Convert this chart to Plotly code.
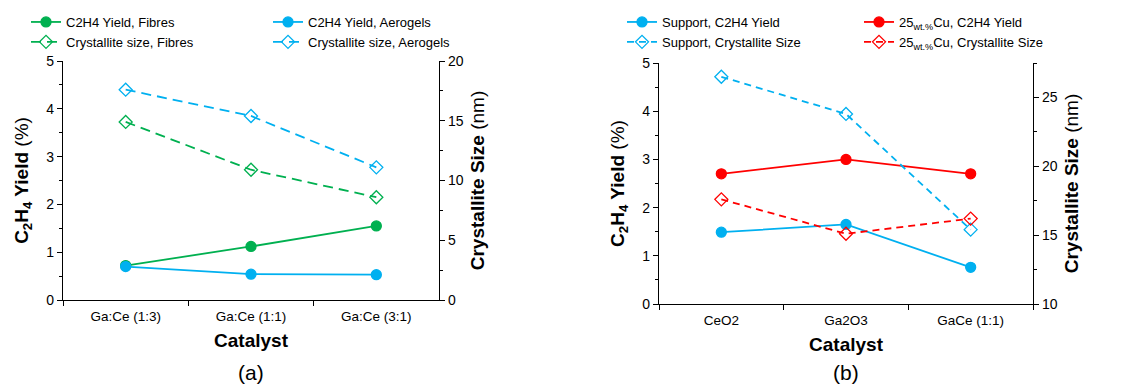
import plotly.graph_objects as go

# ---------------- data ----------------
cat_a = ["Ga:Ce (1:3)", "Ga:Ce (1:1)", "Ga:Ce (3:1)"]
yield_fibres = [0.72, 1.12, 1.55]
yield_aerogels = [0.70, 0.54, 0.53]
cryst_fibres = [14.9, 10.9, 8.6]
cryst_aerogels = [17.6, 15.4, 11.1]

cat_b = ["CeO2", "Ga2O3", "GaCe (1:1)"]
yield_support = [1.49, 1.65, 0.76]
yield_cu = [2.70, 3.00, 2.70]
cryst_support = [26.5, 23.8, 15.4]
cryst_cu = [17.6, 15.1, 16.2]

GREEN = "#00B050"
BLUE = "#00B0F0"
RED = "#FF0000"
FONT = "Arial, Liberation Sans, sans-serif"
INK = "#000000"

W, H = 1131, 385

fig = go.Figure()

def add(x, y, name, color, xa, ya, legend, filled, dash):
    fig.add_trace(go.Scatter(
        x=x, y=y, name=name, mode="lines+markers",
        xaxis=xa, yaxis=ya, legend=legend,
        line=dict(color=color, width=1.8, dash=dash),
        marker=dict(symbol="circle" if filled else "diamond-open",
                    size=10, color=color,
                    line=dict(color=color, width=1.3)),
    ))

# panel (a)
add(cat_a, yield_fibres, "C2H4 Yield, Fibres", GREEN, "x", "y", "legend", True, "solid")
add(cat_a, cryst_fibres, "Crystallite size, Fibres", GREEN, "x", "y2", "legend", False, "10px,6px")
add(cat_a, yield_aerogels, "C2H4 Yield, Aerogels", BLUE, "x", "y", "legend2", True, "solid")
add(cat_a, cryst_aerogels, "Crystallite size, Aerogels", BLUE, "x", "y2", "legend2", False, "10px,6px")
# panel (b)
add(cat_b, yield_support, "Support, C2H4 Yield", BLUE, "x2", "y3", "legend3", True, "solid")
add(cat_b, cryst_support, "Support, Crystallite Size", BLUE, "x2", "y4", "legend3", False, "7px,5px")
add(cat_b, yield_cu, "25<sub>wt.%</sub>Cu, C2H4 Yield", RED, "x2", "y3", "legend4", True, "solid")
add(cat_b, cryst_cu, "25<sub>wt.%</sub>Cu, Crystallite Size", RED, "x2", "y4", "legend4", False, "7px,5px")

def px_x(p):
    return p / W

def px_y(p):
    return 1 - p / H

axis_common = dict(showline=True, linecolor=INK, linewidth=1.3, showgrid=False,
                   zeroline=False, ticks="outside", ticklen=5, tickcolor=INK,
                   tickwidth=1.3, automargin=False,
                   tickfont=dict(family=FONT, size=14, color=INK))

xcommon = dict(axis_common, type="category", tickson="boundaries", range=[-0.5, 2.5],
               tickfont=dict(family=FONT, size=13.5, color=INK), ticklabelstandoff=4,
               title=dict(text="<b>Catalyst</b>", font=dict(family=FONT, size=19, color=INK), standoff=10))

ytitle_left = dict(text="<b>C<sub>2</sub>H<sub>4</sub> Yield</b> (%)",
                   font=dict(family=FONT, size=19, color=INK), standoff=12)
ytitle_right = dict(text="<b>Crystallite Size</b> (nm)",
                    font=dict(family=FONT, size=19, color=INK), standoff=7)

fig.update_layout(
    width=W, height=H,
    margin=dict(l=0, r=0, t=0, b=0, pad=0, autoexpand=False),
    paper_bgcolor="white", plot_bgcolor="white",
    font=dict(family=FONT, color=INK),
    xaxis=dict(xcommon, domain=[px_x(63), px_x(439)], anchor="y"),
    xaxis2=dict(xcommon, domain=[px_x(659), px_x(1033)], anchor="y3"),
    yaxis=dict(axis_common, domain=[px_y(300), px_y(61)], range=[0, 5], dtick=1,
               anchor="x", title=ytitle_left,
               minor=dict(dtick=0.5, ticks="outside", ticklen=3, tickcolor=INK)),
    yaxis2=dict(axis_common, overlaying="y", side="right", anchor="x", range=[0, 20], dtick=5,
                title=ytitle_right,
                minor=dict(dtick=2.5, ticks="outside", ticklen=3, tickcolor=INK)),
    yaxis3=dict(axis_common, domain=[px_y(304), px_y(63)], range=[0, 5], dtick=1,
                anchor="x2", title=ytitle_left,
                minor=dict(dtick=0.5, ticks="outside", ticklen=3, tickcolor=INK)),
    yaxis4=dict(axis_common, overlaying="y3", side="right", anchor="x2", range=[10, 27.5],
                tick0=10, dtick=5, title=ytitle_right,
                minor=dict(tick0=10, dtick=2.5, ticks="outside", ticklen=3, tickcolor=INK)),
)

leg_common = dict(orientation="v", bgcolor="rgba(0,0,0,0)", font=dict(family=FONT, size=13, color=INK),
                  xanchor="left", yanchor="top", tracegroupgap=0, itemwidth=30)
fig.update_layout(
    legend=dict(leg_common, x=px_x(26), y=px_y(7)),
    legend2=dict(leg_common, x=px_x(268), y=px_y(7)),
    legend3=dict(leg_common, x=px_x(622), y=px_y(7)),
    legend4=dict(leg_common, x=px_x(859), y=px_y(7)),
)

fig.add_annotation(text="(a)", x=px_x(251), y=px_y(372), xref="paper", yref="paper",
                   xanchor="center", yanchor="middle",
                   showarrow=False, font=dict(family=FONT, size=21, color=INK))
fig.add_annotation(text="(b)", x=px_x(846), y=px_y(372), xref="paper", yref="paper",
                   xanchor="center", yanchor="middle",
                   showarrow=False, font=dict(family=FONT, size=21, color=INK))

fig.write_html("out.html", config={"displayModeBar": False},
               post_script="document.body.style.margin='0';document.body.style.overflow='hidden';")
